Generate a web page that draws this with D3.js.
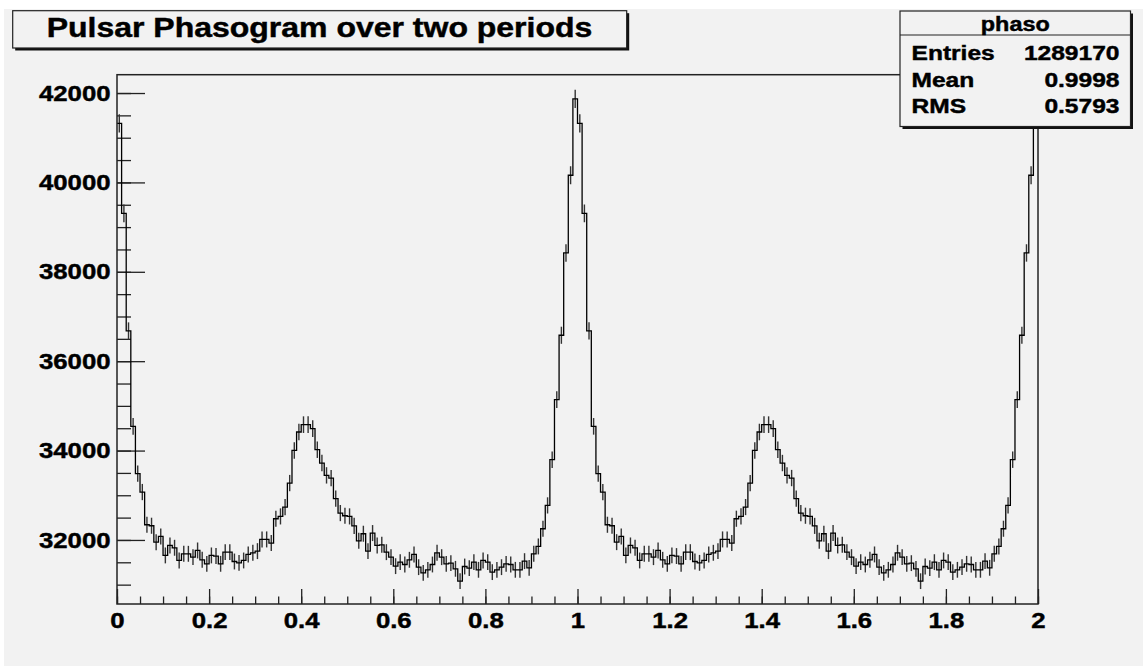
<!DOCTYPE html>
<html>
<head>
<meta charset="utf-8">
<script src="https://cdn.jsdelivr.net/npm/d3@7"></script>
<style>
  body { margin:0; background:#fff; }
  text { font-family:"Liberation Sans", Arial, Helvetica, sans-serif; font-weight:bold; fill:#000; stroke:#000; stroke-width:0.45px; }
</style>
</head>
<body>
<div id="chart"></div>
<script>
// counts per bin (width 0.01) for one period; the phasogram shows it twice
var phaseCounts = [
  41320, 39306, 36677, 34542, 33483, 33072, 32340, 32318, 31951, 32079,
  31654, 31877, 31825, 31541, 31690, 31690, 31615, 31765, 31556, 31466,
  31654, 31640, 31466, 31727, 31727, 31518, 31488, 31541, 31676, 31713,
  31750, 32012, 32012, 31930, 32475, 32527, 32736, 33273, 34004, 34415,
  34580, 34580, 34490, 34019, 33721, 33445, 33385, 32923, 32601, 32542,
  32527, 32315, 31980, 32139, 31750, 32154, 31877, 31892, 31727, 31615,
  31414, 31503, 31451, 31556, 31676, 31391, 31265, 31332, 31451, 31713,
  31615, 31466, 31481, 31354, 31078, 31406, 31370, 31503, 31332, 31541,
  31503, 31280, 31332, 31391, 31466, 31451, 31332, 31332, 31526, 31377,
  31690, 31855, 32251, 32773, 33796, 35140, 36580, 38423, 40160, 41870
]
var periods = 2

var xTickValues = [0, 0.2, 0.4, 0.6, 0.8, 1, 1.2, 1.4, 1.6, 1.8, 2]
var yTickValues = [32000, 34000, 36000, 38000, 40000, 42000]
var xMinorStep = 0.05
var yMinorStep = 500

var titleText = "Pulsar Phasogram over two periods"
var statsName = "phaso"
var statsLabels = ["Entries", "Mean", "RMS"]
var statsValues = ["1289170", "0.9998", "0.5793"]

var W = 1143, H = 666
var frame = { left:117, right:1038, top:74.7, bottom:604 }
var stretch = 1.17   // text in the picture is drawn a little wide

var counts = []
for (var p = 0; p < periods; p++) counts = counts.concat(phaseCounts)
var binWidth = periods / counts.length

var svg = d3.select("#chart")
    .append("svg")
        .attr("width", W)
        .attr("height", H)

svg.append("rect")
    .attr("x", 4)
    .attr("y", 9)
    .attr("width", W - 4)
    .attr("height", H - 9)
    .attr("fill", "#f2f2f2")

var x = d3.scaleLinear()
    .domain([0, periods])
    .range([frame.left, frame.right])

var y = d3.scaleLinear()
    .domain([30567, 42410])
    .range([frame.bottom, frame.top])

// minor ticks
var xMinor = d3.range(0, periods + 1e-9, xMinorStep)
var yMinor = d3.range(31000, 42410, yMinorStep)

svg.append("g")
    .attr("transform", "translate(0," + frame.bottom + ")")
    .call(d3.axisBottom(x).tickValues(xMinor).tickSize(-7.5).tickFormat(""))
    .call(function(g){ g.select(".domain").remove() })
    .selectAll("line").attr("stroke", "#222").attr("stroke-width", 1.3)

svg.append("g")
    .attr("transform", "translate(" + frame.left + ",0)")
    .call(d3.axisLeft(y).tickValues(yMinor).tickSize(-14).tickFormat(""))
    .call(function(g){ g.select(".domain").remove() })
    .selectAll("line").attr("stroke", "#222").attr("stroke-width", 1.3)

// major ticks + labels
var xAxis = svg.append("g")
    .attr("transform", "translate(0," + frame.bottom + ")")
    .call(d3.axisBottom(x).tickValues(xTickValues).tickSize(-15).tickPadding(8.7).tickFormat(d3.format("~g")))
xAxis.select(".domain").remove()
xAxis.selectAll("line").attr("stroke", "#222").attr("stroke-width", 1.3)
xAxis.selectAll("text")
    .attr("font-size", "22px")
    .attr("fill", "#000")
    .attr("transform", "scale(" + stretch + ",1)")

var yAxis = svg.append("g")
    .attr("transform", "translate(" + frame.left + ",0)")
    .call(d3.axisLeft(y).tickValues(yTickValues).tickSize(-28).tickPadding(5.5).tickFormat(d3.format("d")))
yAxis.select(".domain").remove()
yAxis.selectAll("line").attr("stroke", "#222").attr("stroke-width", 1.3)
yAxis.selectAll("text")
    .attr("font-size", "22px")
    .attr("fill", "#000")
    .attr("transform", "scale(" + stretch + ",1)")

// histogram
svg.append("clipPath")
    .attr("id", "frameClip")
    .append("rect")
        .attr("x", frame.left)
        .attr("y", frame.top)
        .attr("width", frame.right - frame.left)
        .attr("height", frame.bottom - frame.top)

var plot = svg.append("g").attr("clip-path", "url(#frameClip)")

var stepPoints = counts.map(function(v, i){ return [i * binWidth, v] })
stepPoints.push([periods, counts[counts.length - 1]])

var step = d3.line()
    .x(function(d){ return x(d[0]) })
    .y(function(d){ return y(d[1]) })
    .curve(d3.curveStepAfter)

plot.selectAll(".err")
    .data(counts)
    .enter()
    .append("line")
        .attr("class", "err")
        .attr("x1", function(d, i){ return x((i + 0.5) * binWidth) })
        .attr("x2", function(d, i){ return x((i + 0.5) * binWidth) })
        .attr("y1", function(d){ return y(d - Math.sqrt(d)) })
        .attr("y2", function(d){ return y(d + Math.sqrt(d)) })
        .attr("stroke", "#333")
        .attr("stroke-width", 1.4)

plot.append("path")
    .datum(stepPoints)
    .attr("d", step)
    .attr("fill", "none")
    .attr("stroke", "#000")
    .attr("stroke-width", 1.3)

// frame
svg.append("rect")
    .attr("x", frame.left)
    .attr("y", frame.top)
    .attr("width", frame.right - frame.left)
    .attr("height", frame.bottom - frame.top)
    .attr("fill", "none")
    .attr("stroke", "#222")
    .attr("stroke-width", 1.5)

function pave(x0, y0, w, h){
    svg.append("rect")
        .attr("x", x0 + 2.5)
        .attr("y", y0 + 2.5)
        .attr("width", w)
        .attr("height", h)
        .attr("fill", "#111")
    svg.append("rect")
        .attr("x", x0)
        .attr("y", y0)
        .attr("width", w)
        .attr("height", h)
        .attr("fill", "#f2f2f2")
        .attr("stroke", "#222")
        .attr("stroke-width", 1.2)
}

// title
pave(12.7, 10.7, 614, 37.3)
svg.append("text")
    .attr("transform", "translate(46.7,36.7) scale(1.143,1)")
    .attr("font-size", "28px")
    .text(titleText)

// stats box
var stats = { left:900, right:1130.5, top:11, bottom:126.5 }
pave(stats.left, stats.top, stats.right - stats.left, stats.bottom - stats.top)

svg.append("line")
    .attr("x1", stats.left)
    .attr("x2", stats.right)
    .attr("y1", 35)
    .attr("y2", 35)
    .attr("stroke", "#222")
    .attr("stroke-width", 1.2)

svg.append("text")
    .attr("transform", "translate(" + (stats.left + stats.right) / 2 + ",30.5) scale(" + stretch + ",1)")
    .attr("text-anchor", "middle")
    .attr("font-size", "20px")
    .text(statsName)

var rowY = [60, 87, 113]
statsLabels.forEach(function(label, i){
    svg.append("text")
        .attr("transform", "translate(911.5," + rowY[i] + ") scale(" + stretch + ",1)")
        .attr("font-size", "21px")
        .text(label)
    svg.append("text")
        .attr("transform", "translate(1119.5," + rowY[i] + ") scale(" + stretch + ",1)")
        .attr("text-anchor", "end")
        .attr("font-size", "21px")
        .text(statsValues[i])
})
</script>
</body>
</html>
